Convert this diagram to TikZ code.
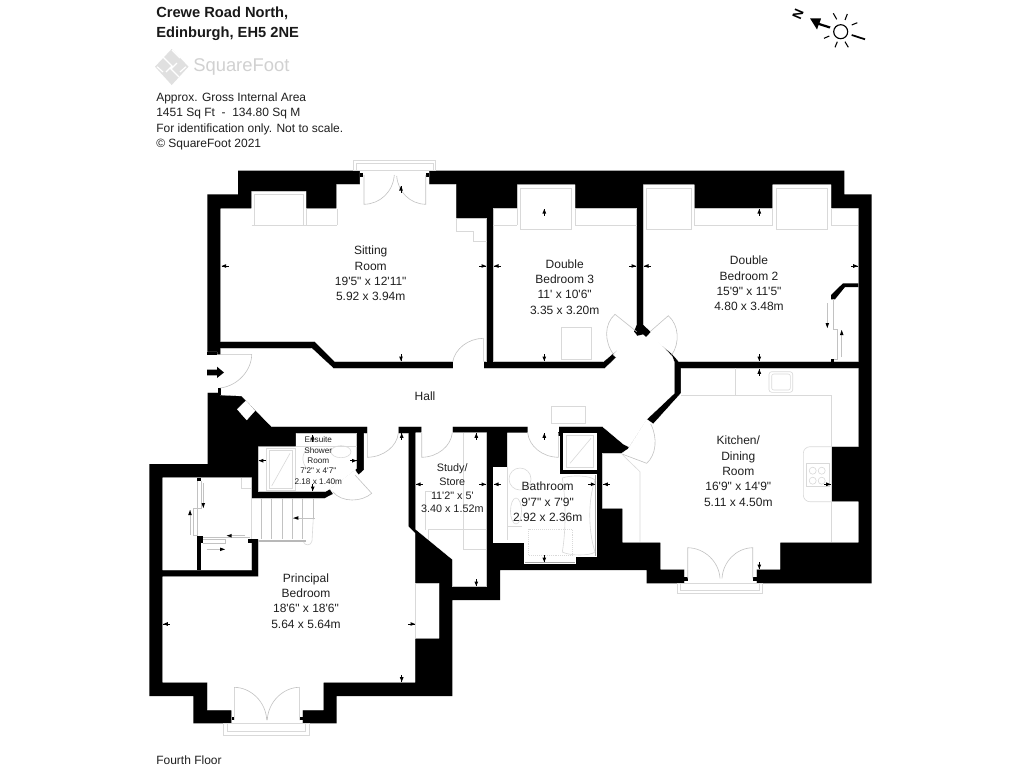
\documentclass[tikz,border=0pt]{standalone}
\usepackage{fontspec}
\newfontfamily\plan{Liberation Sans}
\newcommand\dimtip[3]{\fill[shift={(#1,#2)},rotate=#3] (0,0)--(-4.5,1.9)--(-4.5,-1.9)--cycle; \draw[line width=.35pt,shift={(#1,#2)},rotate=#3] (0,0)--(-7,0);}
\newcommand\runarrow[5]{\draw[doorline] (#1,#2)--(#3,#4); \fill[shift={(#3,#4)},rotate=#5] (0,0)--(-5,1.8)--(-5,-1.8)--cycle;}
\tikzset{
 wall/.style={fill=black,draw=none},
 room/.style={fill=white,draw=white,line width=.2pt},
 fixture/.style={draw=black!15,line width=.45pt,fill=none},
 doorline/.style={draw=black!24,line width=.45pt,fill=none},
 lbl/.style={align=center,inner sep=0pt,text=black!88,font=\plan\fontsize{9}{11.5}\selectfont},
 small/.style={align=center,inner sep=0pt,text=black!88,font=\plan\fontsize{8.1}{10.2}\selectfont},
 tiny/.style={align=center,inner sep=0pt,text=black!88,font=\plan\fontsize{6.15}{7.75}\selectfont},
 info/.style={align=left,anchor=north west,inner sep=0pt,text=black!88,font=\plan\fontsize{9}{11.5}\selectfont},
 title/.style={align=left,anchor=north west,inner sep=0pt,text=black!90,font=\plan\fontsize{11}{15.2}\selectfont\bfseries},
}
\begin{document}
\begin{tikzpicture}[x=0.75pt,y=-0.75pt]
\useasboundingbox (0,0) rectangle (1024,768);
\fill[white] (0,0) rectangle (1024,768);
% outer mass
\fill[wall] (207.3,194.3)--(238,194.3)--(238,170.7)--(844.3,170.7)--(844.3,194.3)--(871.7,194.3)--(871.7,583.3)--(646.7,583.3)--(646.7,570)--(500,570)--(500,600)--(452.3,600)--(452.3,696)--(336.7,696)--(336.7,723.3)--(193.3,723.3)--(193.3,696)--(149.3,696)--(149.3,464)--(207.7,464)--(207.7,392.7)--(207.3,352)--cycle;
% rooms
\path[room] (220.7,208.7)--(251.7,208.7)--(251.7,191.3)--(306,191.3)--(306,208.7)--(336.7,208.7)--(336.7,184.3)--(360,184.3)--(360,169)--(429,169)--(429,184.3)--(456,184.3)--(456,218.3)--(486.7,218.3)--(486.7,361.7)--(335,361.7)--(315,341.7)--(220.7,341.7)--cycle;
\path[room] (493.3,208.3)--(517.3,208.3)--(517.3,184.7)--(575,184.7)--(575,208.3)--(636.7,208.3)--(636.7,336)--(612.3,354)--(603.3,361.7)--(493.3,361.7)--cycle;
\path[room] (643.3,184.7)--(694.3,184.7)--(694.3,208.3)--(772.7,208.3)--(772.7,184.7)--(831,184.7)--(831,208.3)--(858.3,208.3)--(858.3,361.7)--(679,361.7)--(672.3,354)--(650,336)--(643.3,336)--cycle;
\path[room] (205,352)--(217,352)--(217,355)--(220.7,355)--(220.7,348.3)--(311.7,348.3)--(333.3,368.3)--(605,368.3)--(616,357.7)--(633,337)--(650,333)--(672.3,356.7)--(674.3,362)--(674.3,393.3)--(646.7,419.3)--(629,447)--(623.3,444)--(602.7,426.7)--(271.7,426.7)--(241.7,396)--(220,395)--(220,392.7)--(205,392.7)--cycle;
% door gaps
\path[room] (452.7,360)rectangle(483.3,370);
\path[room] (613,354.6)--(616,357.3)--(640,340)--(634,333)--cycle;
% kitchen
\path[room] (681,368.3)--(858.3,368.3)--(858.3,446.7)--(831,446.7)--(831,501.7)--(858.3,501.7)--(858.3,542.3)--(780,542.3)--(780,569.3)--(756.7,569.3)--(756.7,584)--(684.3,584)--(684.3,569.3)--(660.7,569.3)--(660.7,542.3)--(622.7,542.3)--(622.7,508.3)--(602.3,508.3)--(602.3,453.3)--(621.7,453.3)--(628,449)--(646.7,419.3)--(653.3,424)--(681,393.3)--cycle;
% bathroom
\path[room] (507.3,432.7)--(527.7,432.7)--(527.7,426)--(558.3,426)--(558.3,432.7)--(560,432.7)--(560,474)--(595.7,474)--(595.7,556)--(575,556)--(575,562.7)--(524.3,562.7)--(524.3,542.3)--(493.3,542.3)--(493.3,467.3)--(507.3,467.3)--cycle;
\path[room] (563.3,432.7) rectangle (595.7,469.3);
% study
\path[room] (415.7,432.7)--(421.7,432.7)--(421.7,426)--(452.5,426)--(452.5,432.7)--(486.7,432.7)--(486.7,586.7)--(452.3,586.7)--(452.3,559.3)--(415.7,529.3)--cycle;
% ensuite
\path[room] (258.3,446.7)--(296,446.7)--(296,433.3)--(356.7,433.3)--(356.7,468)--(355,470)--(330,489)--(325,491.7)--(258.3,491.7)--cycle;
% principal + closets + stairs
\path[room] (162.7,477.7)--(251.7,477.7)--(251.7,498.3)--(325,498.3)--(333.3,494)--(330,489)--(355,470)--(358.5,475)--(364,470)--(364,433.3)--(367.3,433.3)--(367.3,426)--(398.3,426)--(398.3,433.3)--(408.3,433.3)--(408.3,526.7)--(415,533.3)--(415,583.3)--(439,583.3)--(439,638.3)--(415,638.3)--(415,682.3)--(323.3,682.3)--(323.3,710)--(302.7,710)--(302.7,724)--(231.7,724)--(231.7,710)--(207.3,710)--(207.3,682.3)--(162.7,682.3)--(162.7,576.7)--(258.3,576.7)--(258.3,539.3)--(251.7,539.3)--(251.7,570)--(162.7,570)--cycle;
% diagonal hall window
\path[room] (237.3,409.3)--(246,400.7)--(255,410.7)--(246.7,420)--cycle;
% wall pieces and door stubs
\fill[wall] (196.7,539)rectangle(200.7,570);
\fill[wall] (196.7,477.7)rectangle(200.7,481);
\fill[wall] (196.7,536)rectangle(203,543);
\fill[wall] (248.3,539.3)rectangle(258.3,543.3);
\fill[wall] (207,352)rectangle(217,355);
\fill[wall] (218,388)rectangle(220.5,395);
\fill[wall] (360,173.3)rectangle(363.3,177.3);
\fill[wall] (425.7,173.3)rectangle(429.3,177.3);
\fill[wall] (684.3,577)rectangle(687.7,580.5);
\fill[wall] (753,577)rectangle(756.7,580.5);
\fill[wall] (231.7,716.7)rectangle(234.3,720);
\fill[wall] (299.7,716.7)rectangle(302.7,720);
\fill[wall] (636.7,325)--(643.3,325)--(650.7,332)--(646,336.8)--(640.5,332)--(637,335)--(634,331.5)--cycle;
\fill[wall] (858.3,283.3)--(843,283.3)--(831,295)--(831,299.3)--(835,299.3)--(845,287)--(858.3,287)--cycle;
\fill[wall] (831,359)rectangle(834,361.7);
\fill[wall] (558.3,432)rectangle(563.3,436);
\fill[wall] (560,432)rectangle(563.3,474);
\fill[wall] (207,369.6)--(217,369.6)--(217,366.7)--(224,372.5)--(217,378)--(217,375.4)--(207,375.4)--cycle;
% outer door & window frames
\draw[fixture] (353.3,160) rectangle (435.7,170.7) (356,163) rectangle (433,170);
\draw[fixture] (677.3,583.3) rectangle (762.7,593.3) (680,583.3) rectangle (759.5,590);
\draw[fixture] (223.3,723.3) rectangle (309.3,735) (227.3,723.3) rectangle (305.7,731);
% doors
\draw[doorline] (364,175)--(364,204.3) .. controls (380,204) and (393,192) .. (394.3,175);
\draw[doorline] (425.7,175)--(425.7,204.3) .. controls (410,204) and (398,192) .. (396.7,176);
\draw[doorline] (217,354.3)--(251.7,354.3) .. controls (251.7,370) and (238,386) .. (220,388);
\draw[doorline] (483.3,361.7)--(483.3,338.3) .. controls (468,338.5) and (455,349) .. (452.7,361.7);
\draw[doorline] (636.7,331.7)--(615,314.3) .. controls (604,324) and (604,342) .. (614,355);
\draw[doorline] (650,331.7)--(668.3,315.7) .. controls (679,325) and (680,343) .. (671.7,355);
\draw[doorline] (622,454)--(646.7,463.3) .. controls (656,455) and (658,438) .. (650.7,424);
\draw[fixture] (622.7,455)--(640,471.7)--(640,541.7);
\draw[doorline] (421.7,432.7)--(421.7,457.3) .. controls (438,457) and (451,446) .. (452.3,432.7);
\draw[doorline] (558.3,432.7)--(558.3,457.3) .. controls (542,457) and (529,446) .. (527.7,432.7);
\draw[doorline] (367.3,433.3)--(367.3,457.3) .. controls (384,457) and (397,446) .. (398.3,433.3);
\draw[doorline] (355,475)--(371.7,493.3) .. controls (362,502) and (342,503) .. (332.7,491.7);
\draw[doorline] (687.7,578.3)--(687.7,547.7) .. controls (705,548) and (719,562) .. (720,578.3);
\draw[doorline] (752.7,578.3)--(752.7,547.7) .. controls (736,548) and (723,562) .. (722,578.3);
\draw[doorline] (234.3,720)--(234.3,687.3) .. controls (251,687.5) and (266,702) .. (266.7,720);
\draw[doorline] (299.3,720)--(299.3,687.3) .. controls (283,687.5) and (268,702) .. (267.3,720);
% fixtures: sitting
\draw[fixture] (254.3,194.3) rectangle (303.3,225);
\draw[fixture] (251.7,225)--(337.3,225) (306,208.7)--(306,225) (337.3,208.7)--(337.3,225);
\draw[fixture] (456,218.3)--(456,231)--(473.3,231)--(473.3,241)--(486.7,241);
% bedroom 3
\draw[fixture] (520,188.3) rectangle (571.7,229);
\draw[fixture] (493.3,225)--(517.3,225) (575,225)--(636.7,225) (517.3,208.3)--(517.3,225) (575,208.3)--(575,225);
\draw[fixture] (561.7,327.7) rectangle (591.7,359);
% bedroom 2
\draw[fixture] (646.7,188.3) rectangle (691.7,229);
\draw[fixture] (776,188.3) rectangle (827.7,229);
\draw[fixture] (694.3,225)--(772.7,225) (831,225)--(858.3,225) (694.3,208.3)--(694.3,225) (772.7,208.3)--(772.7,225) (831,208.3)--(831,225);
\draw[doorline] (833.3,299)--(833.3,329)--(837.7,329)--(837.7,359)--(834,359);
% kitchen
\draw[fixture] (735.7,368.3)--(735.7,395.3) (681,395.3)--(831,395.3)--(831,542.3);
\draw[fixture,rounded corners=2pt] (769,371.7) rectangle (792.7,392.3);
\draw[fixture,rounded corners=1.5pt] (771.7,374) rectangle (790.3,390);
\draw[fixture,rounded corners=5pt] (831,446.7)--(803.3,446.7)--(803.3,501.7)--(831,501.7);
\draw[fixture] (806.7,463.3) rectangle (829.3,486);
\draw[fixture] (812.7,470.7) circle (3.5) (821.7,470.7) circle (3.5) (812.7,480.7) circle (3.5) (821.7,480.7) circle (3.5);
% hall
\draw[fixture] (551,406) rectangle (585.7,423.3);
% bathroom
\draw[fixture] (507.3,432.7)--(507.3,540);
\draw[fixture] (562.3,478) .. controls (570,475) and (590,475) .. (595,480) .. controls (588,500) and (588,530) .. (595,552) .. controls (590,556) and (570,556) .. (562.3,552) .. controls (566,530) and (566,500) .. (562.3,478);
\draw[fixture] (520,479) ellipse (11 and 11);
\draw[fixture] (516,511) ellipse (5.5 and 13);
\draw[fixture] (507.3,526.7)--(521.7,526.7);
\draw[fixture,densely dotted] (528.3,529) rectangle (572.3,555);
% shower in bathroom
\draw[fixture] (566.7,435) rectangle (593.3,467.3);
\draw[fixture] (570,463.3)--(591,438.3);
% study
\draw[fixture] (463.3,432.7)--(463.3,549.3)--(486,549.3);
\draw[fixture] (428.3,540)--(428.3,529.3)--(486,529.3);
\draw[fixture] (425,491.7)--(432,491.7) (425,491.7)--(425,530);
% ensuite
\draw[fixture] (266.7,448.3) rectangle (295,490);
\draw[fixture] (269.3,450.7) rectangle (292.7,488.3);
\draw[fixture] (271.7,486)--(290,453.3);
\draw[fixture] (296,446.7)--(356.7,446.7);
\draw[fixture] (341,451.7) ellipse (10 and 6);
\draw[fixture] (308,470) .. controls (300,462) and (302,450) .. (310,449);
% stairs
\draw[fixture] (251.7,498.3)--(251.7,539.3);
\draw[doorline] (261.7,498.3)--(261.7,539.3) (271.7,498.3)--(271.7,539.3) (282.3,498.3)--(282.3,539.3) (292.7,498.3)--(292.7,539.3) (302.7,498.3)--(302.7,539.3) (313.3,498.3)--(313.3,518);
\draw[black!28,line width=1.5pt] (258.3,540.5)--(305.7,540.5);
\draw[fixture] (303.5,542) .. controls (305,546) and (311,546) .. (312,541) -- (313.3,518);
% closets
\draw[fixture] (241.7,477.7)--(241.7,488.3)--(251,488.3);
\draw[doorline] (197.3,481)--(197.3,536) (201,481)--(201,508)--(193.3,508)--(193.3,535)--(197,535);
\draw[doorline] (203,537)--(250,537) (203,539)--(225,539)--(225,543.5)--(203,543.5);
% principal alcove
\draw[fixture] (415,583.3)--(415,638.3);
% dimension tips
\dimtip{221.7}{266}{180}\dimtip{486}{266}{0}\dimtip{401}{186}{90}\dimtip{401}{361}{270}
\dimtip{494}{266}{180}\dimtip{636}{266}{0}\dimtip{544.3}{209}{90}\dimtip{544.3}{361}{270}
\dimtip{644}{266}{180}\dimtip{857.7}{266}{0}\dimtip{759.3}{209}{90}\dimtip{759.3}{361}{270}
\dimtip{759.3}{369.3}{90}\dimtip{759.3}{569}{270}\dimtip{830.7}{484.3}{0}
\dimtip{544.3}{433.3}{90}\dimtip{544.3}{562}{270}\dimtip{494}{484.3}{180}\dimtip{595.3}{484.3}{0}\dimtip{603.3}{484.3}{180}
\dimtip{476.3}{433.3}{90}\dimtip{476.3}{586}{270}\dimtip{416}{484.3}{180}\dimtip{486}{484.3}{0}
\dimtip{401.7}{433.3}{90}\dimtip{163.3}{624}{180}\dimtip{415}{624}{0}\dimtip{401.7}{681.7}{270}
\dimtip{312.7}{435}{90}\dimtip{312.7}{491}{270}\dimtip{258.8}{460.7}{180}\dimtip{356.5}{460.7}{0}
\runarrow{827.3}{303}{827.3}{328}{270}
\runarrow{841.7}{357}{841.7}{330}{90}
\runarrow{315}{518}{293.3}{518}{180}
\runarrow{203.3}{483}{203.3}{508}{270}
\runarrow{190}{535}{190}{510}{90}
\runarrow{245}{535.7}{226.7}{535.7}{180}
\runarrow{206.7}{549.3}{225}{549.3}{0}
% logo
\fill[black!12] (171.7,49)--(188.5,66.7)--(171.7,85)--(155,66.7)--cycle;
\draw[white,line width=.9pt] (163,57)--(172,66)--(166,72) (180,58)--(172,50) (177,63)--(171,69)--(179,77) (157,66.7)--(163,72) (186,66.7)--(180,72);
\node[inner sep=0pt,anchor=west,text=black!18,font=\plan\fontsize{13.8}{15}\selectfont] (logotext) at (193,67) {SquareFoot};
% compass
\draw[line width=.85pt] (840.7,31.7) circle (7);
\draw[line width=.8pt] (833.3,13.3)--(836.7,19.3) (847.3,14)--(845,20) (857.3,22.7)--(851.7,25) (824,38.3)--(829.3,36) (835,47.3)--(837.3,41.7) (848.3,47.3)--(845,41.7);
\draw[line width=1.3pt] (851.7,35)--(865,39.3);
\fill (810,18.3)--(821,18.5)--(819.5,23)--(830.5,26.5)--(829.5,28.5)--(818.5,25)--(817,29.5)--cycle;
\node[inner sep=0pt,rotate=67,font=\plan\fontsize{10}{11}\selectfont\bfseries] (north) at (798,14) {N};
% texts
\node[title] (title) at (156,6.3) {Crewe Road North,\\Edinburgh, EH5 2NE};
\node[info] (area) at (156,92.5) {Approx. Gross Internal Area\\1451 Sq Ft\ \ -\ \ 134.80 Sq M\\For identification only. Not to scale.\\© SquareFoot 2021};
\node[lbl] (sitting) at (370.7,273.7) {Sitting\\Room\\19'5" x 12'11"\\5.92 x 3.94m};
\node[lbl] (bed3) at (564.7,287) {Double\\Bedroom 3\\11' x 10'6"\\3.35 x 3.20m};
\node[lbl] (bed2) at (749,283.7) {Double\\Bedroom 2\\15'9" x 11'5"\\4.80 x 3.48m};
\node[lbl] (hall) at (425,396.7) {Hall};
\node[small] (study) at (452.3,488.5) {Study/\\Store\\11'2" x 5'\\3.40 x 1.52m};
\node[lbl] (bath) at (547.7,502) {Bathroom\\9'7" x 7'9"\\2.92 x 2.36m};
\node[lbl] (kitchen) at (738.3,471.3) {Kitchen/\\Dining\\Room\\16'9" x 14'9"\\5.11 x 4.50m};
\node[lbl] (principal) at (306,601) {Principal\\Bedroom\\18'6" x 18'6"\\5.64 x 5.64m};
\node[tiny] (ensuite) at (318.3,460.5) {Ensuite\\Shower\\Room\\7'2" x 4'7"\\2.18 x 1.40m};
\node[inner sep=0pt,anchor=west,text=black!88,font=\plan\fontsize{9}{11}\selectfont] (floor) at (156,760) {Fourth Floor};
\end{tikzpicture}
\end{document}
